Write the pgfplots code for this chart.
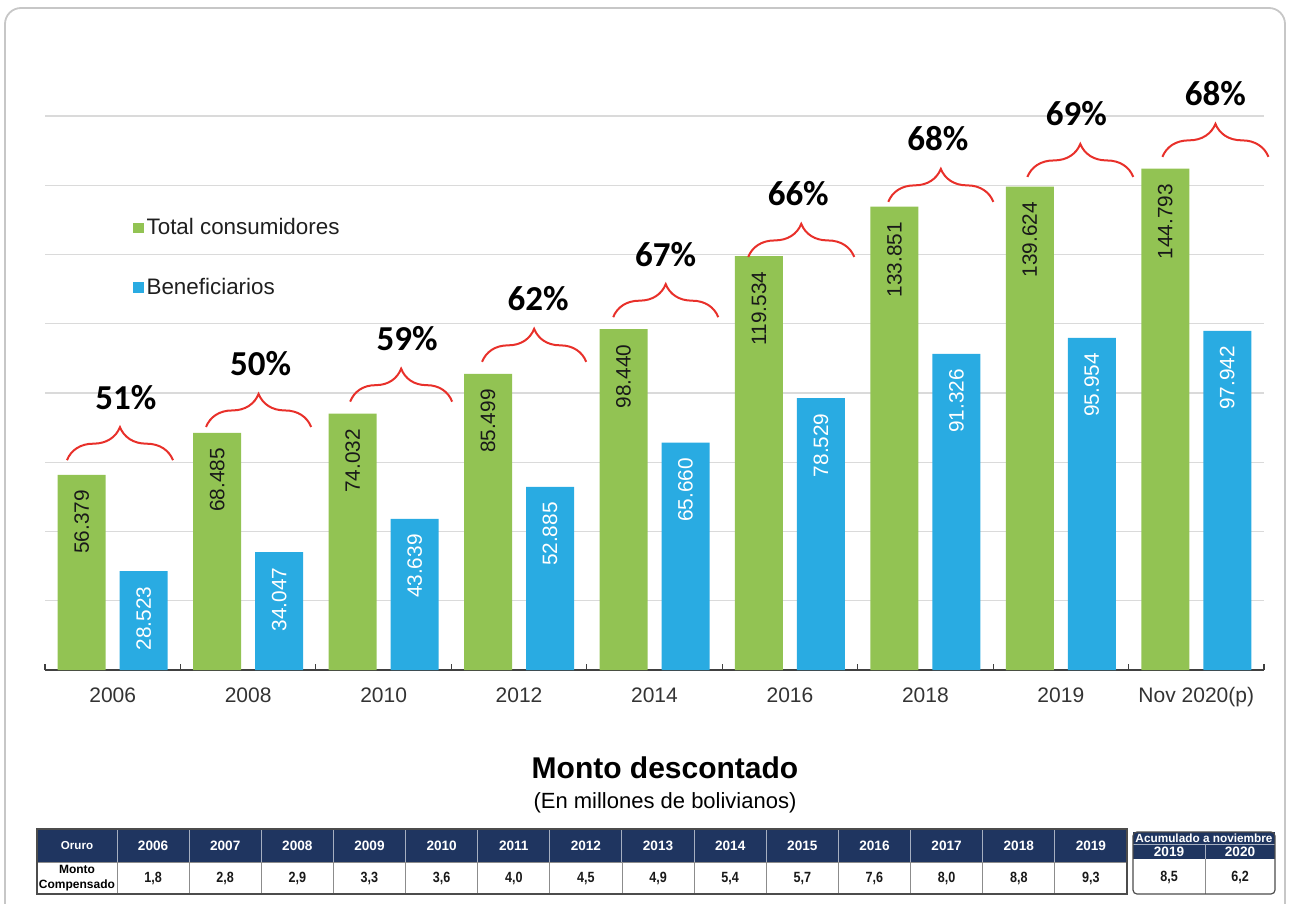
\documentclass[border=0pt]{standalone}
\usepackage{fontspec}
\setmainfont{Liberation Sans}
\newfontfamily\pctfont{Carlito}
\newfontfamily\narrowfont[FakeStretch=0.85]{Liberation Sans}
\usepackage{pgfplots}
\pgfplotsset{compat=1.18}
\usetikzlibrary{decorations.pathreplacing}

\definecolor{barGreen}{HTML}{92C353}
\definecolor{barBlue}{HTML}{29ABE2}
\definecolor{braceRed}{HTML}{E8302A}
\definecolor{tblNavy}{HTML}{1F3560}
\definecolor{gridGray}{HTML}{DADADA}

\begin{document}
\begin{tikzpicture}
\path[use as bounding box] (0,0) rectangle (645pt,-452pt);
% outer card frame
\draw[black!22, line width=0.9pt, rounded corners=8pt]
  (2.5pt,-470pt) -- (2.5pt,-4pt) -- (642.5pt,-4pt) -- (642.5pt,-470pt);

\begin{axis}[
  at={(22.5pt,-335pt)}, anchor=south west,
  scale only axis, width=609.5pt, height=277pt,
  ybar, bar width=24pt,
  xmin=-0.5, xmax=8.5, ymin=0, ymax=160,
  axis x line*=bottom, axis y line*=left,
  y axis line style={draw=none},
  x axis line style={draw=black!75, line width=0.6pt, -},
  ytick={20,40,...,160}, yticklabels={}, ytick style={draw=none},
  ymajorgrids, grid style={gridGray, line width=0.6pt},
  xtick={0,...,8},
  xticklabels={2006,2008,2010,2012,2014,2016,2018,2019,Nov 2020(p)},
  major x tick style={draw=none},
  minor xtick={-0.5,0.5,...,8.5}, minor tick length=3pt, tick align=inside,
  minor x tick style={draw=black!75, line width=0.6pt},
  xticklabel style={font=\fontsize{10.5}{12}\selectfont, text=black!80,
    text height=7.6pt, text depth=2pt, yshift=-5pt},
  /pgf/number format/assume math mode=true,
  clip=false,
  legend style={at={(0.072,0.821)}, anchor=north west, draw=none, fill=none,
    font=\fontsize{11.2}{13}\selectfont, text=black!88, row sep=17pt,
    inner sep=0pt, nodes={inner sep=1.5pt}},
  legend cell align=left,
  nodes near coords, point meta=explicit symbolic,
  every node near coord/.append style={rotate=90, anchor=east,
    inner xsep=7.5pt, font=\fontsize{10.4}{12}\selectfont},
]
\addplot[fill=barGreen, draw=none, bar shift=-15.5pt,
  every node near coord/.append style={text=black!90},
  legend image code/.code={\fill[barGreen] (0pt,-2.6pt) rectangle (5.2pt,2.6pt);}]
  coordinates {
  (0,56.379) [56.379] (1,68.485) [68.485] (2,74.032) [74.032]
  (3,85.499) [85.499] (4,98.440) [98.440] (5,119.534) [119.534]
  (6,133.851) [133.851] (7,139.624) [139.624] (8,144.793) [144.793]
  };
\addlegendentry{Total consumidores}
\addplot[fill=barBlue, draw=none, bar shift=15.5pt,
  every node near coord/.append style={text=white},
  legend image code/.code={\fill[barBlue] (0pt,-2.6pt) rectangle (5.2pt,2.6pt);}]
  coordinates {
  (0,28.523) [28.523] (1,34.047) [34.047] (2,43.639) [43.639]
  (3,52.885) [52.885] (4,65.660) [65.660] (5,78.529) [78.529]
  (6,91.326) [91.326] (7,95.954) [95.954] (8,97.942) [97.942]
  };
\addlegendentry{Beneficiarios}

% braces with share of beneficiaries
\tikzset{pbrace/.style={braceRed, line width=1pt, decorate,
    decoration={brace, amplitude=16.5pt}},
  plabel/.style={midway, anchor=base, yshift=25.5pt, text=black,
    font=\pctfont\bfseries\fontsize{17.5}{20}\selectfont}}
\draw[pbrace] (axis cs:-0.338,60.6) -- (axis cs:0.445,60.6) node[plabel, xshift=3pt] {51\%};
\draw[pbrace] (axis cs:0.689,70.2) -- (axis cs:1.465,70.2) node[plabel, xshift=1pt] {50\%};
\draw[pbrace] (axis cs:1.753,77.5) -- (axis cs:2.506,77.5) node[plabel, xshift=3pt] {59\%};
\draw[pbrace] (axis cs:2.727,89.0) -- (axis cs:3.496,89.0) node[plabel, xshift=2pt] {62\%};
\draw[pbrace] (axis cs:3.695,101.9) -- (axis cs:4.471,101.9) node[plabel] {67\%};
\draw[pbrace] (axis cs:4.692,119.3) -- (axis cs:5.475,119.3) node[plabel, xshift=-1.5pt] {66\%};
\draw[pbrace] (axis cs:5.726,135.2) -- (axis cs:6.502,135.2) node[plabel, xshift=-1.5pt] {68\%};
\draw[pbrace] (axis cs:6.753,142.4) -- (axis cs:7.535,142.4) node[plabel, xshift=-2pt] {69\%};
\draw[pbrace] (axis cs:7.750,148.2) -- (axis cs:8.533,148.2) node[plabel] {68\%};
\end{axis}

\begin{scope}[x=0.5pt, y=-0.5pt]
\node[font=\bfseries\fontsize{15}{18}\selectfont] at (665,768) {Monto descontado};
\node[font=\fontsize{11}{13}\selectfont] at (665,803) {(En millones de bolivianos)};

% left table
\fill[tblNavy] (37,829) rectangle (1127,862);
\draw[black!45, line width=0.4pt] (37,862) rectangle (1127,894);
\foreach \i in {0,...,14} {
  \draw[white!60!tblNavy, line width=0.5pt] ({117+72.14*\i},829) -- ({117+72.14*\i},862);
  \draw[black!45, line width=0.4pt] ({117+72.14*\i},862) -- ({117+72.14*\i},894);
}
\draw[black!70, line width=0.6pt] (37,829) rectangle (1127,894);
\node[text=white, font=\bfseries\fontsize{5.8}{7}\selectfont] at (77,845.5) {Oruro};
\node[align=center, font=\bfseries\fontsize{6}{7.4}\selectfont, inner sep=0pt]
  at (77,878.5) {Monto\\Compensado};
\foreach \y [count=\i] in {2006,2007,2008,2009,2010,2011,2012,2013,2014,2015,2016,2017,2018,2019}
  \node[text=white, font=\bfseries\fontsize{6.8}{8}\selectfont]
    at ({117+72.14*(\i-0.5)},845.5) {\y};
\foreach \v [count=\i] in {{1,8},{2,8},{2,9},{3,3},{3,6},{4,0},{4,5},{4,9},{5,4},{5,7},{7,6},{8,0},{8,8},{9,3}}
  \node[text=black!90, font=\narrowfont\bfseries\fontsize{7.4}{9}\selectfont]
    at ({117+72.14*(\i-0.5)},878.5) {\v};

% right table
\fill[tblNavy] (1133,832) rectangle (1275,859);
\draw[white!60!tblNavy, line width=0.5pt] (1133,844.5) -- (1275,844.5);
\draw[white!60!tblNavy, line width=0.5pt] (1205,844.5) -- (1205,859);
\draw[black!45, line width=0.4pt] (1205,859) -- (1205,894);
\draw[black!70, line width=0.6pt, rounded corners=2pt] (1133,832) rectangle (1275,894);
\node[text=white, font=\bfseries\fontsize{5.9}{7}\selectfont] at (1204,838.5) {Acumulado a noviembre};
\node[text=white, font=\bfseries\fontsize{6.8}{8}\selectfont] at (1169,852) {2019};
\node[text=white, font=\bfseries\fontsize{6.8}{8}\selectfont] at (1240,852) {2020};
\node[text=black!90, font=\narrowfont\bfseries\fontsize{7.4}{9}\selectfont] at (1169,877) {8,5};
\node[text=black!90, font=\narrowfont\bfseries\fontsize{7.4}{9}\selectfont] at (1240,877) {6,2};
\end{scope}
\end{tikzpicture}
\end{document}
